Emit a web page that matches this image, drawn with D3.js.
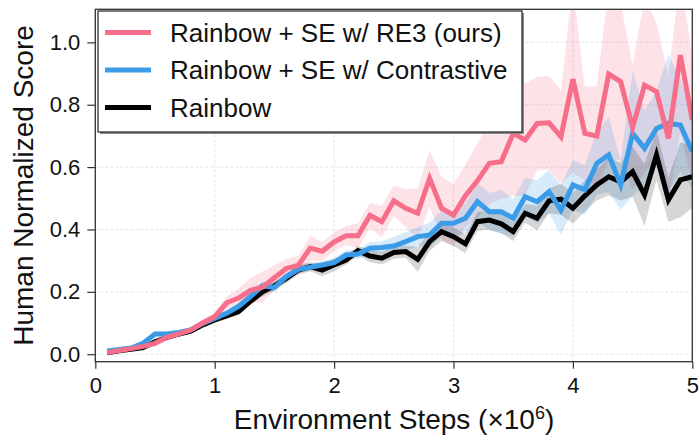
<!doctype html>
<meta charset="utf-8">
<style>
body { margin: 0; background: #fff; }
text { font-family: "Liberation Sans", Arial, sans-serif; }
</style>
<script src="https://d3js.org/d3.v7.min.js"></script>
<body>
<svg id="chart"></svg>
<script>
// x: environment steps (x10^6)
var steps = d3.range(1, 51).map(function(i){ return i / 10; });

var re3 = [0.005,0.012,0.018,0.025,0.035,0.055,0.065,0.078,0.1,0.12,
           0.165,0.18,0.205,0.215,0.245,0.275,0.285,0.34,0.33,0.36,
           0.38,0.38,0.445,0.425,0.492,0.468,0.452,0.564,0.468,0.446,
           0.508,0.556,0.612,0.617,0.708,0.687,0.74,0.742,0.697,0.882,
           0.708,0.70,0.898,0.874,0.727,0.863,0.842,0.692,0.959,0.751];
var re3Spread = [0.005,0.005,0.006,0.008,0.01,0.01,0.01,0.01,0.012,0.015,
           0.02,0.03,0.04,0.05,0.04,0.03,0.03,0.04,0.03,0.03,
           0.03,0.04,0.04,0.05,0.05,0.06,0.08,0.09,0.1,0.1,
           0.1,0.12,0.13,0.12,0.2,0.18,0.15,0.15,0.15,0.3,
           0.15,0.16,0.28,0.25,0.2,0.28,0.22,0.2,0.25,0.2];

var contrastive = [0.01,0.015,0.02,0.035,0.065,0.065,0.07,0.078,0.099,0.115,
           0.131,0.153,0.185,0.219,0.214,0.249,0.272,0.279,0.286,0.294,
           0.318,0.321,0.34,0.342,0.347,0.361,0.377,0.382,0.42,0.42,
           0.436,0.489,0.457,0.457,0.436,0.505,0.489,0.521,0.462,0.543,
           0.527,0.612,0.639,0.543,0.708,0.66,0.724,0.74,0.735,0.649];
var contrastiveSpread = [0.004,0.005,0.005,0.006,0.008,0.008,0.008,0.008,0.01,0.01,
           0.01,0.012,0.012,0.015,0.015,0.012,0.012,0.012,0.012,0.015,
           0.015,0.015,0.02,0.02,0.03,0.03,0.03,0.04,0.04,0.04,
           0.05,0.06,0.06,0.07,0.06,0.06,0.07,0.07,0.08,0.08,
           0.08,0.1,0.12,0.08,0.2,0.12,0.12,0.22,0.15,0.12];

var rainbow = [0.005,0.011,0.016,0.021,0.04,0.054,0.065,0.074,0.094,0.11,
           0.123,0.137,0.17,0.2,0.219,0.243,0.27,0.281,0.27,0.286,
           0.302,0.332,0.315,0.308,0.326,0.329,0.304,0.361,0.393,0.377,
           0.354,0.425,0.43,0.418,0.393,0.452,0.436,0.492,0.497,0.468,
           0.508,0.543,0.569,0.553,0.585,0.511,0.639,0.495,0.559,0.569];
var rainbowSpread = [0.004,0.005,0.005,0.006,0.008,0.008,0.008,0.008,0.01,0.01,
           0.01,0.012,0.012,0.015,0.015,0.015,0.015,0.015,0.02,0.02,
           0.015,0.015,0.02,0.02,0.02,0.02,0.04,0.03,0.03,0.03,
           0.03,0.03,0.03,0.03,0.03,0.03,0.04,0.04,0.05,0.05,
           0.05,0.05,0.06,0.06,0.08,0.1,0.08,0.07,0.12,0.1];

var seriesNames = ["Rainbow + SE w/ RE3 (ours)", "Rainbow + SE w/ Contrastive", "Rainbow"];
var seriesColors = ["#f66e89", "#3a9be8", "#000000"];
var bandColors = ["rgba(246,110,137,0.2)", "rgba(58,155,232,0.2)", "rgba(0,0,0,0.16)"];
var xTicks = [0, 1, 2, 3, 4, 5];
var yTicks = [0, 0.2, 0.4, 0.6, 0.8, 1.0];

var width = 699, height = 436;
var margin = {top: 9.3, right: 6.7, bottom: 74.3, left: 95.3};

var svg = d3.select("#chart").attr("width", width).attr("height", height);

var x = d3.scaleLinear().domain([0, 5]).range([margin.left, width - margin.right]);
var y = d3.scaleLinear().domain([-0.024, 1.106]).range([height - margin.bottom, margin.top]);

svg.append("defs").append("clipPath").attr("id", "plotclip")
  .append("rect")
    .attr("x", margin.left).attr("y", margin.top)
    .attr("width", x(5) - margin.left).attr("height", y(-0.024) - margin.top);

// grid
var grid = svg.append("g");
grid.selectAll(".gx").data(xTicks).enter().append("line")
  .attr("x1", function(d){ return x(d); }).attr("x2", function(d){ return x(d); })
  .attr("y1", margin.top).attr("y2", height - margin.bottom)
  .attr("stroke", "#e3e3e3").attr("stroke-dasharray", "3 2").attr("stroke-width", 1);
grid.selectAll(".gy").data(yTicks).enter().append("line")
  .attr("y1", function(d){ return y(d); }).attr("y2", function(d){ return y(d); })
  .attr("x1", margin.left).attr("x2", width - margin.right)
  .attr("stroke", "#e3e3e3").attr("stroke-dasharray", "3 2").attr("stroke-width", 1);

var series = [
  {mean: re3, spread: re3Spread},
  {mean: contrastive, spread: contrastiveSpread},
  {mean: rainbow, spread: rainbowSpread}
];

var plot = svg.append("g").attr("clip-path", "url(#plotclip)");

var area = d3.area()
  .x(function(d){ return x(d.x); })
  .y0(function(d){ return y(d.m - d.s); })
  .y1(function(d){ return y(d.m + d.s); });
var line = d3.line()
  .x(function(d){ return x(d.x); })
  .y(function(d){ return y(d.m); });

series.forEach(function(s, i){
  var pts = steps.map(function(st, j){ return {x: st, m: s.mean[j], s: s.spread[j]}; });
  plot.append("path").datum(pts).attr("d", area).attr("fill", bandColors[i]);
});
// draw lines in reverse so the pink sits on top of the others
[2, 1, 0].forEach(function(i){
  var s = series[i];
  var pts = steps.map(function(st, j){ return {x: st, m: s.mean[j], s: s.spread[j]}; });
  plot.append("path").datum(pts).attr("d", line)
    .attr("fill", "none").attr("stroke", seriesColors[i])
    .attr("stroke-width", 5).attr("stroke-linejoin", "miter");
});

// axes
var xAxis = svg.append("g").attr("transform", "translate(0," + (height - margin.bottom) + ")")
  .call(d3.axisBottom(x).tickValues(xTicks).tickFormat(d3.format("d")).tickSize(7).tickPadding(9));
var yAxis = svg.append("g").attr("transform", "translate(" + margin.left + ",0)")
  .call(d3.axisLeft(y).tickValues(yTicks).tickFormat(d3.format(".1f")).tickSize(8).tickPadding(7));
[xAxis, yAxis].forEach(function(a){
  a.select(".domain").remove();
  a.selectAll("line").attr("stroke", "#333").attr("stroke-width", 1.2);
  a.selectAll("text").attr("fill", "#111").style("font-size", "22px");
});

// frame
svg.append("rect")
  .attr("x", margin.left).attr("y", margin.top)
  .attr("width", x(5) - margin.left).attr("height", height - margin.bottom - margin.top)
  .attr("fill", "none").attr("stroke", "#333").attr("stroke-width", 1.3);

// axis titles
var xt = svg.append("text").attr("x", 394).attr("y", 429)
  .attr("text-anchor", "middle").style("font-size", "28px").attr("fill", "#111");
xt.append("tspan").text("Environment Steps (×10");
xt.append("tspan").text("6").attr("dy", -10).style("font-size", "18px");
xt.append("tspan").text(")").attr("dy", 10);

svg.append("text")
  .attr("transform", "translate(33," + ((margin.top + height - margin.bottom) / 2) + ") rotate(-90)")
  .attr("text-anchor", "middle").style("font-size", "28px").attr("fill", "#111")
  .text("Human Normalized Score");

// legend
var lg = svg.append("g");
lg.append("rect").attr("x", 100).attr("y", 13).attr("width", 424).attr("height", 121).attr("fill", "#888");
lg.append("rect").attr("x", 98).attr("y", 11).attr("width", 424).attr("height", 121)
  .attr("fill", "#fff").attr("stroke", "#333").attr("stroke-width", 1.3);
seriesNames.forEach(function(name, i){
  var yy = 32.5 + i * 37.5;
  lg.append("line").attr("x1", 105).attr("x2", 151).attr("y1", yy).attr("y2", yy)
    .attr("stroke", seriesColors[i]).attr("stroke-width", 5);
  lg.append("text").attr("x", 170).attr("y", yy).attr("dy", "0.36em")
    .style("font-size", "26px").attr("fill", "#111").text(name);
});
</script>
</body>
</html>
